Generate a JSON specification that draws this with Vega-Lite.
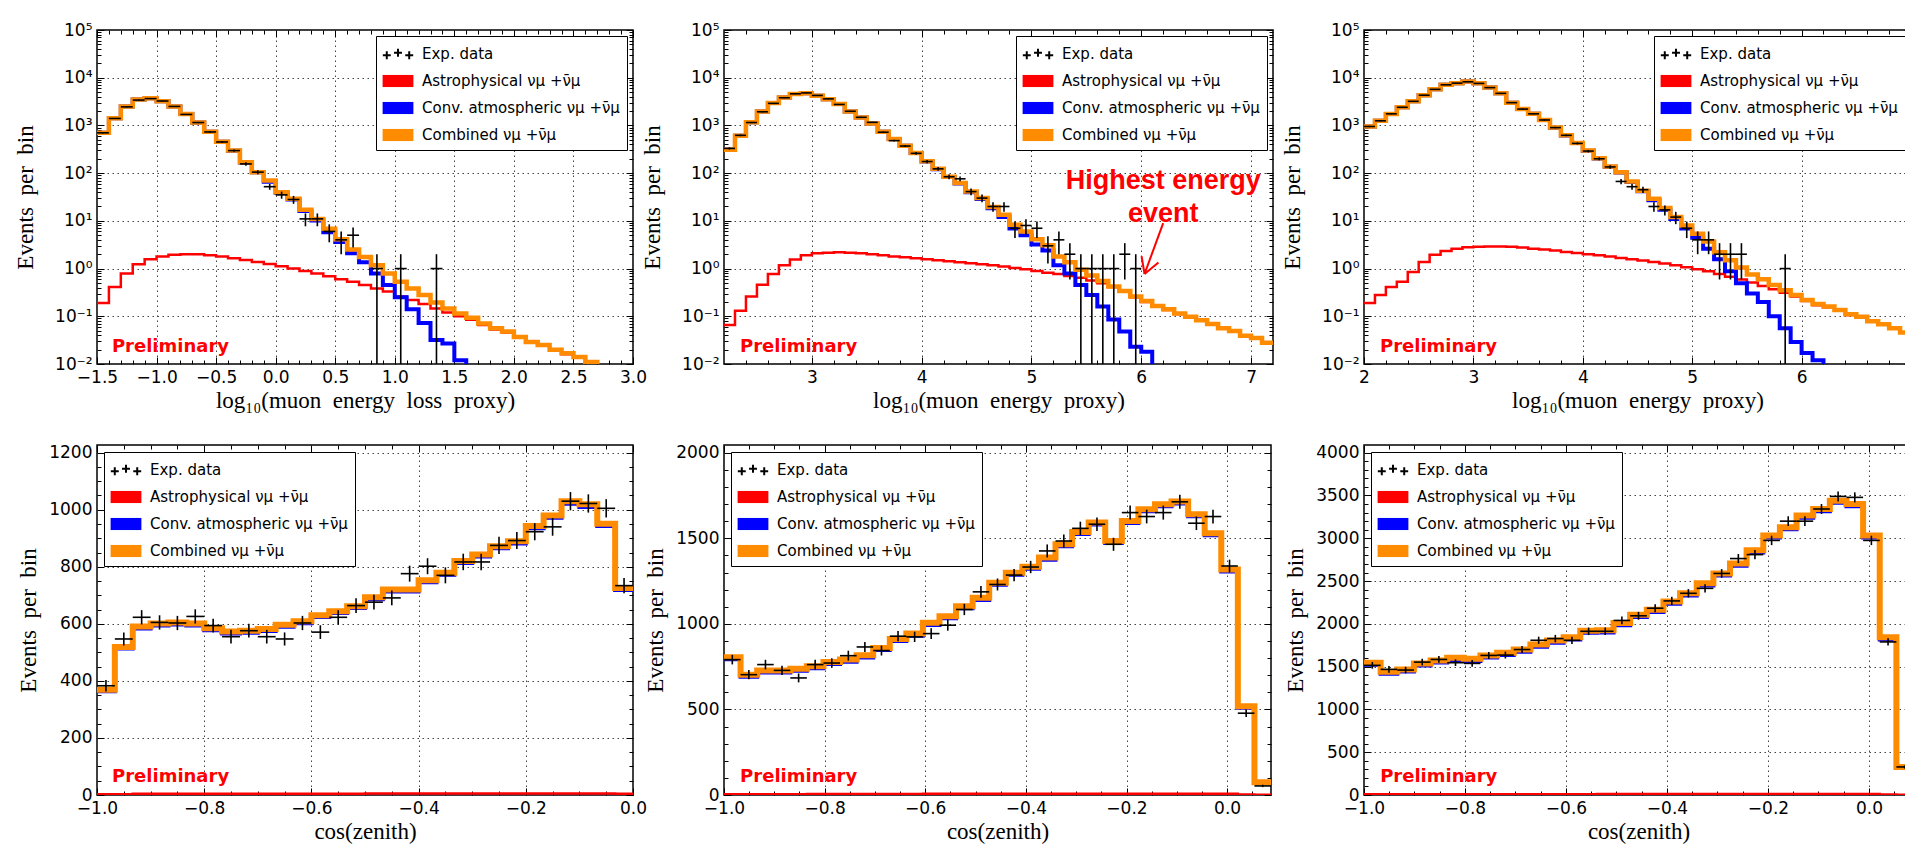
{
"$schema": "https://vega.github.io/schema/vega-lite/v6.json",
"background": "white",
"padding": {"left": 13, "top": 20, "right": 0, "bottom": 0},
"config": {
  "view": {"stroke": "black", "strokeWidth": 1.5},
  "axis": {"labelFont": "DejaVu Sans", "labelFontSize": 17, "labelColor": "black", "titleFont": "Liberation Serif", "titleFontSize": 23, "titleFontWeight": "normal", "titleColor": "black", "grid": true, "gridColor": "#444", "gridDash": [1.5, 3.5], "gridWidth": 1, "domain": false, "ticks": true, "tickColor": "black", "tickSize": -7, "tickWidth": 1, "labelPadding": 12, "labelFlush": false, "labelOverlap": false, "titlePadding": 4},
  "legend": {"title": null, "fillColor": "white", "strokeColor": "black", "padding": 7, "cornerRadius": 0, "labelFont": "DejaVu Sans", "labelFontSize": 15, "labelColor": "black", "labelOffset": 13, "labelLimit": 400, "symbolSize": 484, "symbolStrokeWidth": 0, "symbolOpacity": 1, "symbolOffset": 4, "rowPadding": 8}
},
"datasets": {
"lg": [],
"m1": [
{"x":-1.5,"comb":700,"conv":700,"astro":0.19},{"x":-1.4,"comb":1420,"conv":1420,"astro":0.41},{"x":-1.3,"comb":2500,"conv":2500,"astro":0.79},{"x":-1.2,"comb":3500,"conv":3500,"astro":1.23},{"x":-1.1,"comb":3700,"conv":3700,"astro":1.57},{"x":-1.0,"comb":3200,"conv":3200,"astro":1.8},{"x":-0.9,"comb":2500,"conv":2500,"astro":1.96},{"x":-0.8,"comb":1740,"conv":1738,"astro":2.0},{"x":-0.7,"comb":1150,"conv":1148,"astro":1.99},{"x":-0.6,"comb":740,"conv":738,"astro":1.9},{"x":-0.5,"comb":457,"conv":455,"astro":1.78},{"x":-0.4,"comb":297,"conv":295,"astro":1.64},{"x":-0.3,"comb":170,"conv":168,"astro":1.52},{"x":-0.2,"comb":105,"conv":104,"astro":1.38},{"x":-0.1,"comb":70,"conv":66,"astro":1.25},{"x":0.0,"comb":40,"conv":39,"astro":1.12},{"x":0.1,"comb":29,"conv":28,"astro":1.0},{"x":0.2,"comb":17,"conv":16,"astro":0.89},{"x":0.3,"comb":11,"conv":10.2,"astro":0.79},{"x":0.4,"comb":6.8,"conv":5.8,"astro":0.69},{"x":0.5,"comb":4.1,"conv":3.6,"astro":0.6},{"x":0.6,"comb":2.5,"conv":2.1,"astro":0.53},{"x":0.7,"comb":1.75,"conv":1.35,"astro":0.45},{"x":0.8,"comb":1.17,"conv":0.79,"astro":0.38},{"x":0.9,"comb":0.79,"conv":0.45,"astro":0.33},{"x":1.0,"comb":0.53,"conv":0.25,"astro":0.26},{"x":1.1,"comb":0.38,"conv":0.14,"astro":0.22},{"x":1.2,"comb":0.28,"conv":0.072,"astro":0.18},{"x":1.3,"comb":0.195,"conv":0.032,"astro":0.146},{"x":1.4,"comb":0.146,"conv":0.027,"astro":0.12},{"x":1.5,"comb":0.115,"conv":0.012,"astro":0.1},{"x":1.6,"comb":0.093,"conv":0.007,"astro":0.085},{"x":1.7,"comb":0.071,"conv":0.005,"astro":0.066},{"x":1.8,"comb":0.056,"conv":0.003,"astro":0.053},{"x":1.9,"comb":0.048,"conv":0.002,"astro":0.046},{"x":2.0,"comb":0.037,"conv":0.001,"astro":0.036},{"x":2.1,"comb":0.029,"conv":0.001,"astro":0.028},{"x":2.2,"comb":0.025,"conv":0.001,"astro":0.024},{"x":2.3,"comb":0.02,"conv":0.001,"astro":0.019},{"x":2.4,"comb":0.0167,"conv":0.001,"astro":0.016},{"x":2.5,"comb":0.014,"conv":0.001,"astro":0.0135},{"x":2.6,"comb":0.011,"conv":0.001,"astro":0.0105},{"x":2.7,"comb":0.008,"conv":0.001,"astro":0.0078},{"x":2.8,"comb":0.006,"conv":0.001,"astro":0.0058},{"x":2.9,"comb":0.005,"conv":0.001,"astro":0.0048},{"x":3.0,"comb":0.005,"conv":0.001,"astro":0.0048}
],
"d1": [
{"x0":-1.5,"x1":-1.4,"xm":-1.45,"n":700,"lo":674,"hi":726},{"x0":-1.4,"x1":-1.3,"xm":-1.35,"n":1400,"lo":1363,"hi":1437},{"x0":-1.3,"x1":-1.2,"xm":-1.25,"n":2450,"lo":2400,"hi":2500},{"x0":-1.2,"x1":-1.1,"xm":-1.15,"n":3400,"lo":3342,"hi":3458},{"x0":-1.1,"x1":-1.0,"xm":-1.05,"n":3650,"lo":3590,"hi":3710},{"x0":-1.0,"x1":-0.9,"xm":-0.95,"n":3250,"lo":3193,"hi":3307},{"x0":-0.9,"x1":-0.8,"xm":-0.85,"n":2500,"lo":2450,"hi":2550},{"x0":-0.8,"x1":-0.7,"xm":-0.75,"n":1700,"lo":1659,"hi":1741},{"x0":-0.7,"x1":-0.6,"xm":-0.65,"n":1150,"lo":1116,"hi":1184},{"x0":-0.6,"x1":-0.5,"xm":-0.55,"n":730,"lo":703,"hi":757},{"x0":-0.5,"x1":-0.4,"xm":-0.45,"n":450,"lo":429,"hi":471},{"x0":-0.4,"x1":-0.3,"xm":-0.35,"n":297,"lo":280,"hi":314},{"x0":-0.3,"x1":-0.2,"xm":-0.25,"n":156,"lo":143.5,"hi":168.5},{"x0":-0.2,"x1":-0.1,"xm":-0.15,"n":105,"lo":94.8,"hi":115.2},{"x0":-0.1,"x1":0.0,"xm":-0.05,"n":52,"lo":44.8,"hi":59.2},{"x0":0.0,"x1":0.1,"xm":0.05,"n":35,"lo":29.1,"hi":40.9},{"x0":0.1,"x1":0.2,"xm":0.15,"n":28,"lo":22.7,"hi":33.3},{"x0":0.2,"x1":0.3,"xm":0.25,"n":11,"lo":7.7,"hi":14.3},{"x0":0.3,"x1":0.4,"xm":0.35,"n":11,"lo":7.7,"hi":14.3},{"x0":0.4,"x1":0.5,"xm":0.45,"n":6,"lo":3.55,"hi":8.45},{"x0":0.5,"x1":0.6,"xm":0.55,"n":4,"lo":2,"hi":6},{"x0":0.6,"x1":0.7,"xm":0.65,"n":5,"lo":2.76,"hi":7.24},{"x0":0.8,"x1":0.9,"xm":0.85,"n":1,"lo":0.001,"hi":2},{"x0":1.0,"x1":1.1,"xm":1.05,"n":1,"lo":0.001,"hi":2},{"x0":1.3,"x1":1.4,"xm":1.35,"n":1,"lo":0.001,"hi":2}
],
"m2": [
{"x":2.2,"comb":310,"conv":310,"astro":0.066},{"x":2.3,"comb":610,"conv":610,"astro":0.13},{"x":2.4,"comb":1160,"conv":1160,"astro":0.26},{"x":2.5,"comb":1950,"conv":1950,"astro":0.46},{"x":2.6,"comb":2950,"conv":2949,"astro":0.77},{"x":2.7,"comb":3870,"conv":3869,"astro":1.17},{"x":2.8,"comb":4550,"conv":4548,"astro":1.54},{"x":2.9,"comb":4750,"conv":4748,"astro":1.9},{"x":3.0,"comb":4200,"conv":4198,"astro":2.1},{"x":3.1,"comb":3550,"conv":3548,"astro":2.15},{"x":3.2,"comb":2800,"conv":2798,"astro":2.2},{"x":3.3,"comb":1970,"conv":1968,"astro":2.15},{"x":3.4,"comb":1475,"conv":1473,"astro":2.1},{"x":3.5,"comb":1100,"conv":1098,"astro":2.0},{"x":3.6,"comb":740,"conv":738,"astro":1.9},{"x":3.7,"comb":520,"conv":518,"astro":1.8},{"x":3.8,"comb":375,"conv":373,"astro":1.72},{"x":3.9,"comb":265,"conv":263,"astro":1.64},{"x":4.0,"comb":178,"conv":176,"astro":1.57},{"x":4.1,"comb":123,"conv":121,"astro":1.49},{"x":4.2,"comb":84,"conv":82.6,"astro":1.42},{"x":4.3,"comb":62,"conv":60.6,"astro":1.36},{"x":4.4,"comb":41,"conv":39.7,"astro":1.29},{"x":4.5,"comb":30,"conv":28.8,"astro":1.23},{"x":4.6,"comb":19.5,"conv":18.3,"astro":1.17},{"x":4.7,"comb":13.4,"conv":12,"astro":1.1},{"x":4.8,"comb":8.3,"conv":6.9,"astro":1.03},{"x":4.9,"comb":6.0,"conv":5.0,"astro":0.97},{"x":5.0,"comb":4.1,"conv":3.2,"astro":0.89},{"x":5.1,"comb":3.1,"conv":2.4,"astro":0.82},{"x":5.2,"comb":1.8,"conv":1.17,"astro":0.77},{"x":5.3,"comb":1.35,"conv":0.79,"astro":0.7},{"x":5.4,"comb":0.95,"conv":0.45,"astro":0.64},{"x":5.5,"comb":0.72,"conv":0.28,"astro":0.56},{"x":5.6,"comb":0.55,"conv":0.16,"astro":0.49},{"x":5.7,"comb":0.42,"conv":0.086,"astro":0.41},{"x":5.8,"comb":0.34,"conv":0.048,"astro":0.33},{"x":5.9,"comb":0.26,"conv":0.023,"astro":0.25},{"x":6.0,"comb":0.21,"conv":0.018,"astro":0.2},{"x":6.1,"comb":0.165,"conv":0.008,"astro":0.16},{"x":6.2,"comb":0.14,"conv":0.005,"astro":0.136},{"x":6.3,"comb":0.115,"conv":0.003,"astro":0.112},{"x":6.4,"comb":0.098,"conv":0.002,"astro":0.096},{"x":6.5,"comb":0.083,"conv":0.001,"astro":0.082},{"x":6.6,"comb":0.069,"conv":0.001,"astro":0.068},{"x":6.7,"comb":0.056,"conv":0.001,"astro":0.055},{"x":6.8,"comb":0.049,"conv":0.001,"astro":0.048},{"x":6.9,"comb":0.039,"conv":0.001,"astro":0.038},{"x":7.0,"comb":0.035,"conv":0.001,"astro":0.034},{"x":7.1,"comb":0.028,"conv":0.001,"astro":0.027},{"x":7.2,"comb":0.028,"conv":0.001,"astro":0.027}
],
"d2": [
{"x0":2.2,"x1":2.3,"xm":2.25,"n":330,"lo":312,"hi":348},{"x0":2.3,"x1":2.4,"xm":2.35,"n":620,"lo":595,"hi":645},{"x0":2.4,"x1":2.5,"xm":2.45,"n":1150,"lo":1116,"hi":1184},{"x0":2.5,"x1":2.6,"xm":2.55,"n":1930,"lo":1886,"hi":1974},{"x0":2.6,"x1":2.7,"xm":2.65,"n":2900,"lo":2846,"hi":2954},{"x0":2.7,"x1":2.8,"xm":2.75,"n":3800,"lo":3738,"hi":3862},{"x0":2.8,"x1":2.9,"xm":2.85,"n":4600,"lo":4532,"hi":4668},{"x0":2.9,"x1":3.0,"xm":2.95,"n":4800,"lo":4731,"hi":4869},{"x0":3.0,"x1":3.1,"xm":3.05,"n":4250,"lo":4185,"hi":4315},{"x0":3.1,"x1":3.2,"xm":3.15,"n":3600,"lo":3540,"hi":3660},{"x0":3.2,"x1":3.3,"xm":3.25,"n":2750,"lo":2698,"hi":2802},{"x0":3.3,"x1":3.4,"xm":3.35,"n":1980,"lo":1936,"hi":2024},{"x0":3.4,"x1":3.5,"xm":3.45,"n":1480,"lo":1442,"hi":1518},{"x0":3.5,"x1":3.6,"xm":3.55,"n":1160,"lo":1126,"hi":1194},{"x0":3.6,"x1":3.7,"xm":3.65,"n":720,"lo":693,"hi":747},{"x0":3.7,"x1":3.8,"xm":3.75,"n":480,"lo":458,"hi":502},{"x0":3.8,"x1":3.9,"xm":3.85,"n":370,"lo":351,"hi":389},{"x0":3.9,"x1":4.0,"xm":3.95,"n":260,"lo":244,"hi":276},{"x0":4.0,"x1":4.1,"xm":4.05,"n":175,"lo":162,"hi":188},{"x0":4.1,"x1":4.2,"xm":4.15,"n":123,"lo":112,"hi":134},{"x0":4.2,"x1":4.3,"xm":4.25,"n":84,"lo":74.8,"hi":93.2},{"x0":4.3,"x1":4.4,"xm":4.35,"n":76,"lo":67.3,"hi":84.7},{"x0":4.4,"x1":4.5,"xm":4.45,"n":41,"lo":34.6,"hi":47.4},{"x0":4.5,"x1":4.6,"xm":4.55,"n":30,"lo":24.5,"hi":35.5},{"x0":4.6,"x1":4.7,"xm":4.65,"n":20,"lo":15.5,"hi":24.5},{"x0":4.7,"x1":4.8,"xm":4.75,"n":20,"lo":15.5,"hi":24.5},{"x0":4.8,"x1":4.9,"xm":4.85,"n":7,"lo":4.35,"hi":9.65},{"x0":4.9,"x1":5.0,"xm":4.95,"n":8,"lo":5.17,"hi":10.83},{"x0":5.0,"x1":5.1,"xm":5.05,"n":7,"lo":4.35,"hi":9.65},{"x0":5.1,"x1":5.2,"xm":5.15,"n":3,"lo":1.27,"hi":4.73},{"x0":5.2,"x1":5.3,"xm":5.25,"n":4,"lo":2,"hi":6},{"x0":5.3,"x1":5.4,"xm":5.35,"n":2,"lo":0.59,"hi":3.41},{"x0":5.4,"x1":5.5,"xm":5.45,"n":1,"lo":0.001,"hi":2},{"x0":5.5,"x1":5.6,"xm":5.55,"n":1,"lo":0.001,"hi":2},{"x0":5.6,"x1":5.7,"xm":5.65,"n":1,"lo":0.001,"hi":2},{"x0":5.7,"x1":5.8,"xm":5.75,"n":1,"lo":0.001,"hi":2},{"x0":5.8,"x1":5.9,"xm":5.85,"n":2,"lo":0.59,"hi":3.41},{"x0":5.9,"x1":6.0,"xm":5.95,"n":1,"lo":0.001,"hi":2}
],
"m3": [
{"x":2.0,"comb":955,"conv":955,"astro":0.19},{"x":2.1,"comb":1250,"conv":1250,"astro":0.28},{"x":2.2,"comb":1740,"conv":1740,"astro":0.41},{"x":2.3,"comb":2400,"conv":2400,"astro":0.53},{"x":2.4,"comb":3200,"conv":3199,"astro":0.85},{"x":2.5,"comb":4300,"conv":4299,"astro":1.38},{"x":2.6,"comb":5750,"conv":5748,"astro":1.96},{"x":2.7,"comb":7100,"conv":7098,"astro":2.34},{"x":2.8,"comb":7700,"conv":7697,"astro":2.6},{"x":2.9,"comb":8300,"conv":8297,"astro":2.8},{"x":3.0,"comb":7700,"conv":7697,"astro":2.85},{"x":3.1,"comb":6250,"conv":6247,"astro":2.9},{"x":3.2,"comb":4750,"conv":4747,"astro":2.9},{"x":3.3,"comb":3000,"conv":2997,"astro":2.85},{"x":3.4,"comb":2200,"conv":2197,"astro":2.75},{"x":3.5,"comb":1750,"conv":1747,"astro":2.6},{"x":3.6,"comb":1300,"conv":1297,"astro":2.5},{"x":3.7,"comb":900,"conv":898,"astro":2.4},{"x":3.8,"comb":620,"conv":618,"astro":2.23},{"x":3.9,"comb":430,"conv":428,"astro":2.13},{"x":4.0,"comb":297,"conv":295,"astro":2.0},{"x":4.1,"comb":205,"conv":203,"astro":1.9},{"x":4.2,"comb":138,"conv":136,"astro":1.78},{"x":4.3,"comb":105,"conv":103,"astro":1.67},{"x":4.4,"comb":67,"conv":65.4,"astro":1.57},{"x":4.5,"comb":43,"conv":41.5,"astro":1.47},{"x":4.6,"comb":29,"conv":27,"astro":1.38},{"x":4.7,"comb":18.5,"conv":17,"astro":1.27},{"x":4.8,"comb":12,"conv":11,"astro":1.17},{"x":4.9,"comb":8,"conv":6.9,"astro":1.07},{"x":5.0,"comb":5.4,"conv":4.4,"astro":0.97},{"x":5.1,"comb":3.7,"conv":2.6,"astro":0.88},{"x":5.2,"comb":2.2,"conv":1.57,"astro":0.77},{"x":5.3,"comb":1.5,"conv":0.88,"astro":0.67},{"x":5.4,"comb":1.05,"conv":0.49,"astro":0.59},{"x":5.5,"comb":0.75,"conv":0.3,"astro":0.51},{"x":5.6,"comb":0.6,"conv":0.2,"astro":0.43},{"x":5.7,"comb":0.45,"conv":0.1,"astro":0.37},{"x":5.8,"comb":0.35,"conv":0.056,"astro":0.31},{"x":5.9,"comb":0.28,"conv":0.029,"astro":0.26},{"x":6.0,"comb":0.22,"conv":0.017,"astro":0.21},{"x":6.1,"comb":0.18,"conv":0.012,"astro":0.17},{"x":6.2,"comb":0.16,"conv":0.006,"astro":0.155},{"x":6.3,"comb":0.135,"conv":0.004,"astro":0.13},{"x":6.4,"comb":0.11,"conv":0.003,"astro":0.107},{"x":6.5,"comb":0.098,"conv":0.002,"astro":0.096},{"x":6.6,"comb":0.079,"conv":0.001,"astro":0.078},{"x":6.7,"comb":0.068,"conv":0.001,"astro":0.067},{"x":6.8,"comb":0.056,"conv":0.001,"astro":0.055},{"x":6.9,"comb":0.046,"conv":0.001,"astro":0.045},{"x":7.0,"comb":0.046,"conv":0.001,"astro":0.045}
],
"d3": [
{"x0":2.0,"x1":2.1,"xm":2.05,"n":950,"lo":919,"hi":981},{"x0":2.1,"x1":2.2,"xm":2.15,"n":1250,"lo":1215,"hi":1285},{"x0":2.2,"x1":2.3,"xm":2.25,"n":1750,"lo":1708,"hi":1792},{"x0":2.3,"x1":2.4,"xm":2.35,"n":2400,"lo":2351,"hi":2449},{"x0":2.4,"x1":2.5,"xm":2.45,"n":3200,"lo":3143,"hi":3257},{"x0":2.5,"x1":2.6,"xm":2.55,"n":4300,"lo":4234,"hi":4366},{"x0":2.6,"x1":2.7,"xm":2.65,"n":5700,"lo":5625,"hi":5775},{"x0":2.7,"x1":2.8,"xm":2.75,"n":7100,"lo":7016,"hi":7184},{"x0":2.8,"x1":2.9,"xm":2.85,"n":7700,"lo":7612,"hi":7788},{"x0":2.9,"x1":3.0,"xm":2.95,"n":8200,"lo":8109,"hi":8291},{"x0":3.0,"x1":3.1,"xm":3.05,"n":7600,"lo":7513,"hi":7687},{"x0":3.1,"x1":3.2,"xm":3.15,"n":6200,"lo":6121,"hi":6279},{"x0":3.2,"x1":3.3,"xm":3.25,"n":4700,"lo":4631,"hi":4769},{"x0":3.3,"x1":3.4,"xm":3.35,"n":3000,"lo":2945,"hi":3055},{"x0":3.4,"x1":3.5,"xm":3.45,"n":2200,"lo":2153,"hi":2247},{"x0":3.5,"x1":3.6,"xm":3.55,"n":1750,"lo":1708,"hi":1792},{"x0":3.6,"x1":3.7,"xm":3.65,"n":1300,"lo":1264,"hi":1336},{"x0":3.7,"x1":3.8,"xm":3.75,"n":900,"lo":870,"hi":930},{"x0":3.8,"x1":3.9,"xm":3.85,"n":620,"lo":595,"hi":645},{"x0":3.9,"x1":4.0,"xm":3.95,"n":420,"lo":400,"hi":440},{"x0":4.0,"x1":4.1,"xm":4.05,"n":290,"lo":273,"hi":307},{"x0":4.1,"x1":4.2,"xm":4.15,"n":200,"lo":186,"hi":214},{"x0":4.2,"x1":4.3,"xm":4.25,"n":135,"lo":123,"hi":147},{"x0":4.3,"x1":4.4,"xm":4.35,"n":67,"lo":58.8,"hi":75.2},{"x0":4.4,"x1":4.5,"xm":4.45,"n":52,"lo":44.8,"hi":59.2},{"x0":4.5,"x1":4.6,"xm":4.55,"n":45,"lo":38.3,"hi":51.7},{"x0":4.6,"x1":4.7,"xm":4.65,"n":20,"lo":15.5,"hi":24.5},{"x0":4.7,"x1":4.8,"xm":4.75,"n":17,"lo":12.9,"hi":21.1},{"x0":4.8,"x1":4.9,"xm":4.85,"n":12,"lo":8.54,"hi":15.46},{"x0":4.9,"x1":5.0,"xm":4.95,"n":7,"lo":4.35,"hi":9.65},{"x0":5.0,"x1":5.1,"xm":5.05,"n":4,"lo":2,"hi":6},{"x0":5.1,"x1":5.2,"xm":5.15,"n":4,"lo":2,"hi":6},{"x0":5.2,"x1":5.3,"xm":5.25,"n":2,"lo":0.59,"hi":3.41},{"x0":5.3,"x1":5.4,"xm":5.35,"n":2,"lo":0.59,"hi":3.41},{"x0":5.4,"x1":5.5,"xm":5.45,"n":2,"lo":0.59,"hi":3.41},{"x0":5.8,"x1":5.9,"xm":5.85,"n":1,"lo":0.001,"hi":2}
],
"m4": [
{"x":-1.0,"comb":369,"conv":364,"astro":3},{"x":-0.9667,"comb":519,"conv":514,"astro":3},{"x":-0.9333,"comb":591,"conv":584,"astro":4},{"x":-0.9,"comb":601,"conv":594,"astro":4},{"x":-0.8667,"comb":605,"conv":598,"astro":4},{"x":-0.8333,"comb":601,"conv":594,"astro":4},{"x":-0.8,"comb":585,"conv":578,"astro":4},{"x":-0.7667,"comb":573,"conv":566,"astro":4},{"x":-0.7333,"comb":576,"conv":569,"astro":4},{"x":-0.7,"comb":582,"conv":575,"astro":4},{"x":-0.6667,"comb":597,"conv":590,"astro":4},{"x":-0.6333,"comb":609,"conv":602,"astro":4},{"x":-0.6,"comb":630,"conv":624,"astro":4},{"x":-0.5667,"comb":644,"conv":638,"astro":4},{"x":-0.5333,"comb":662,"conv":656,"astro":4},{"x":-0.5,"comb":693,"conv":686,"astro":5},{"x":-0.4667,"comb":720,"conv":713,"astro":5},{"x":-0.4333,"comb":720,"conv":713,"astro":5},{"x":-0.4,"comb":753,"conv":746,"astro":5},{"x":-0.3667,"comb":779,"conv":772,"astro":5},{"x":-0.3333,"comb":820,"conv":813,"astro":5},{"x":-0.3,"comb":843,"conv":836,"astro":5},{"x":-0.2667,"comb":872,"conv":865,"astro":5},{"x":-0.2333,"comb":890,"conv":882,"astro":5},{"x":-0.2,"comb":943,"conv":935,"astro":5},{"x":-0.1667,"comb":980,"conv":972,"astro":5},{"x":-0.1333,"comb":1030,"conv":1021,"astro":5},{"x":-0.1,"comb":1019,"conv":1010,"astro":5},{"x":-0.0667,"comb":951,"conv":943,"astro":5},{"x":-0.0333,"comb":726,"conv":719,"astro":4},{"x":0.0,"comb":726,"conv":719,"astro":4}
],
"d4": [
{"x0":-1.0,"x1":-0.9667,"xm":-0.9833,"n":383,"lo":363,"hi":403},{"x0":-0.9667,"x1":-0.9333,"xm":-0.95,"n":547,"lo":524,"hi":570},{"x0":-0.9333,"x1":-0.9,"xm":-0.9167,"n":623,"lo":598,"hi":648},{"x0":-0.9,"x1":-0.8667,"xm":-0.8833,"n":605,"lo":580,"hi":630},{"x0":-0.8667,"x1":-0.8333,"xm":-0.85,"n":603,"lo":578,"hi":628},{"x0":-0.8333,"x1":-0.8,"xm":-0.8167,"n":626,"lo":601,"hi":651},{"x0":-0.8,"x1":-0.7667,"xm":-0.7833,"n":594,"lo":570,"hi":618},{"x0":-0.7667,"x1":-0.7333,"xm":-0.75,"n":555,"lo":531,"hi":579},{"x0":-0.7333,"x1":-0.7,"xm":-0.7167,"n":576,"lo":552,"hi":600},{"x0":-0.7,"x1":-0.6667,"xm":-0.6833,"n":555,"lo":531,"hi":579},{"x0":-0.6667,"x1":-0.6333,"xm":-0.65,"n":547,"lo":524,"hi":570},{"x0":-0.6333,"x1":-0.6,"xm":-0.6167,"n":603,"lo":578,"hi":628},{"x0":-0.6,"x1":-0.5667,"xm":-0.5833,"n":571,"lo":547,"hi":595},{"x0":-0.5667,"x1":-0.5333,"xm":-0.55,"n":623,"lo":598,"hi":648},{"x0":-0.5333,"x1":-0.5,"xm":-0.5167,"n":664,"lo":638,"hi":690},{"x0":-0.5,"x1":-0.4667,"xm":-0.4833,"n":676,"lo":650,"hi":702},{"x0":-0.4667,"x1":-0.4333,"xm":-0.45,"n":691,"lo":665,"hi":717},{"x0":-0.4333,"x1":-0.4,"xm":-0.4167,"n":776,"lo":748,"hi":804},{"x0":-0.4,"x1":-0.3667,"xm":-0.3833,"n":802,"lo":774,"hi":830},{"x0":-0.3667,"x1":-0.3333,"xm":-0.35,"n":770,"lo":742,"hi":798},{"x0":-0.3333,"x1":-0.3,"xm":-0.3167,"n":817,"lo":788,"hi":846},{"x0":-0.3,"x1":-0.2667,"xm":-0.2833,"n":817,"lo":788,"hi":846},{"x0":-0.2667,"x1":-0.2333,"xm":-0.25,"n":875,"lo":845,"hi":905},{"x0":-0.2333,"x1":-0.2,"xm":-0.2167,"n":892,"lo":862,"hi":922},{"x0":-0.2,"x1":-0.1667,"xm":-0.1833,"n":923,"lo":893,"hi":953},{"x0":-0.1667,"x1":-0.1333,"xm":-0.15,"n":940,"lo":909,"hi":971},{"x0":-0.1333,"x1":-0.1,"xm":-0.1167,"n":1030,"lo":998,"hi":1062},{"x0":-0.1,"x1":-0.0667,"xm":-0.0833,"n":1022,"lo":990,"hi":1054},{"x0":-0.0667,"x1":-0.0333,"xm":-0.05,"n":1005,"lo":973,"hi":1037},{"x0":-0.0333,"x1":0.0,"xm":-0.0167,"n":734,"lo":707,"hi":761}
],
"m5": [
{"x":-1.0,"comb":805,"conv":793,"astro":5},{"x":-0.9671,"comb":703,"conv":691,"astro":5},{"x":-0.9341,"comb":728,"conv":716,"astro":5},{"x":-0.9012,"comb":728,"conv":716,"astro":5},{"x":-0.8682,"comb":738,"conv":726,"astro":5},{"x":-0.8353,"comb":752,"conv":740,"astro":6},{"x":-0.8023,"comb":777,"conv":765,"astro":6},{"x":-0.7694,"comb":791,"conv":779,"astro":6},{"x":-0.7364,"comb":816,"conv":804,"astro":6},{"x":-0.7035,"comb":859,"conv":847,"astro":6},{"x":-0.6705,"comb":912,"conv":900,"astro":6},{"x":-0.6376,"comb":943,"conv":931,"astro":6},{"x":-0.6047,"comb":1006,"conv":994,"astro":7},{"x":-0.5717,"comb":1045,"conv":1033,"astro":7},{"x":-0.5388,"comb":1103,"conv":1091,"astro":7},{"x":-0.5058,"comb":1152,"conv":1140,"astro":7},{"x":-0.4729,"comb":1240,"conv":1228,"astro":7},{"x":-0.4399,"comb":1299,"conv":1287,"astro":7},{"x":-0.407,"comb":1334,"conv":1322,"astro":7},{"x":-0.374,"comb":1387,"conv":1375,"astro":8},{"x":-0.3411,"comb":1465,"conv":1453,"astro":8},{"x":-0.3081,"comb":1537,"conv":1525,"astro":8},{"x":-0.2752,"comb":1592,"conv":1580,"astro":8},{"x":-0.2423,"comb":1484,"conv":1472,"astro":8},{"x":-0.2093,"comb":1601,"conv":1589,"astro":8},{"x":-0.1764,"comb":1670,"conv":1658,"astro":8},{"x":-0.1434,"comb":1699,"conv":1687,"astro":8},{"x":-0.1105,"comb":1715,"conv":1703,"astro":8},{"x":-0.0775,"comb":1640,"conv":1628,"astro":8},{"x":-0.0446,"comb":1529,"conv":1517,"astro":8},{"x":-0.0116,"comb":1318,"conv":1306,"astro":7},{"x":0.0213,"comb":518,"conv":510,"astro":3},{"x":0.0543,"comb":74,"conv":72,"astro":1},{"x":0.0872,"comb":74,"conv":72,"astro":1}
],
"d5": [
{"x0":-1.0,"x1":-0.9671,"xm":-0.9835,"n":791,"lo":763,"hi":819},{"x0":-0.9671,"x1":-0.9341,"xm":-0.9506,"n":703,"lo":677,"hi":730},{"x0":-0.9341,"x1":-0.9012,"xm":-0.9176,"n":762,"lo":734,"hi":790},{"x0":-0.9012,"x1":-0.8682,"xm":-0.8847,"n":728,"lo":701,"hi":755},{"x0":-0.8682,"x1":-0.8353,"xm":-0.8517,"n":684,"lo":658,"hi":710},{"x0":-0.8353,"x1":-0.8023,"xm":-0.8188,"n":762,"lo":734,"hi":790},{"x0":-0.8023,"x1":-0.7694,"xm":-0.7858,"n":771,"lo":743,"hi":799},{"x0":-0.7694,"x1":-0.7364,"xm":-0.7529,"n":814,"lo":785,"hi":843},{"x0":-0.7364,"x1":-0.7035,"xm":-0.72,"n":865,"lo":836,"hi":894},{"x0":-0.7035,"x1":-0.6705,"xm":-0.687,"n":844,"lo":815,"hi":873},{"x0":-0.6705,"x1":-0.6376,"xm":-0.6541,"n":928,"lo":898,"hi":958},{"x0":-0.6376,"x1":-0.6047,"xm":-0.6211,"n":924,"lo":894,"hi":954},{"x0":-0.6047,"x1":-0.5717,"xm":-0.5882,"n":943,"lo":912,"hi":974},{"x0":-0.5717,"x1":-0.5388,"xm":-0.5552,"n":992,"lo":960,"hi":1024},{"x0":-0.5388,"x1":-0.5058,"xm":-0.5223,"n":1084,"lo":1051,"hi":1117},{"x0":-0.5058,"x1":-0.4729,"xm":-0.4893,"n":1187,"lo":1153,"hi":1221},{"x0":-0.4729,"x1":-0.4399,"xm":-0.4564,"n":1230,"lo":1195,"hi":1265},{"x0":-0.4399,"x1":-0.407,"xm":-0.4234,"n":1285,"lo":1249,"hi":1321},{"x0":-0.407,"x1":-0.374,"xm":-0.3905,"n":1332,"lo":1296,"hi":1368},{"x0":-0.374,"x1":-0.3411,"xm":-0.3576,"n":1426,"lo":1388,"hi":1464},{"x0":-0.3411,"x1":-0.3081,"xm":-0.3246,"n":1484,"lo":1446,"hi":1522},{"x0":-0.3081,"x1":-0.2752,"xm":-0.2917,"n":1558,"lo":1519,"hi":1597},{"x0":-0.2752,"x1":-0.2423,"xm":-0.2587,"n":1582,"lo":1542,"hi":1622},{"x0":-0.2423,"x1":-0.2093,"xm":-0.2258,"n":1465,"lo":1427,"hi":1503},{"x0":-0.2093,"x1":-0.1764,"xm":-0.1928,"n":1650,"lo":1609,"hi":1691},{"x0":-0.1764,"x1":-0.1434,"xm":-0.1599,"n":1627,"lo":1587,"hi":1667},{"x0":-0.1434,"x1":-0.1105,"xm":-0.1269,"n":1650,"lo":1609,"hi":1691},{"x0":-0.1105,"x1":-0.0775,"xm":-0.094,"n":1713,"lo":1672,"hi":1754},{"x0":-0.0775,"x1":-0.0446,"xm":-0.0611,"n":1588,"lo":1548,"hi":1628},{"x0":-0.0446,"x1":-0.0116,"xm":-0.0281,"n":1627,"lo":1587,"hi":1667},{"x0":-0.0116,"x1":0.0213,"xm":0.0048,"n":1338,"lo":1301,"hi":1375},{"x0":0.0213,"x1":0.0543,"xm":0.0378,"n":478,"lo":456,"hi":500},{"x0":0.0543,"x1":0.0872,"xm":0.0707,"n":53,"lo":46,"hi":60}
],
"m6": [
{"x":-1.0,"comb":1546,"conv":1521,"astro":8},{"x":-0.9671,"comb":1441,"conv":1416,"astro":8},{"x":-0.9341,"comb":1468,"conv":1443,"astro":8},{"x":-0.9012,"comb":1538,"conv":1513,"astro":8},{"x":-0.8682,"comb":1573,"conv":1548,"astro":9},{"x":-0.8353,"comb":1604,"conv":1579,"astro":9},{"x":-0.8023,"comb":1592,"conv":1567,"astro":9},{"x":-0.7694,"comb":1631,"conv":1606,"astro":9},{"x":-0.7364,"comb":1662,"conv":1637,"astro":9},{"x":-0.7035,"comb":1700,"conv":1675,"astro":10},{"x":-0.6705,"comb":1758,"conv":1733,"astro":10},{"x":-0.6376,"comb":1805,"conv":1780,"astro":10},{"x":-0.6047,"comb":1843,"conv":1818,"astro":10},{"x":-0.5717,"comb":1920,"conv":1895,"astro":10},{"x":-0.5388,"comb":1924,"conv":1899,"astro":11},{"x":-0.5058,"comb":2009,"conv":1984,"astro":11},{"x":-0.4729,"comb":2106,"conv":2081,"astro":11},{"x":-0.4399,"comb":2164,"conv":2139,"astro":11},{"x":-0.407,"comb":2260,"conv":2235,"astro":12},{"x":-0.374,"comb":2357,"conv":2332,"astro":12},{"x":-0.3411,"comb":2473,"conv":2448,"astro":12},{"x":-0.3081,"comb":2589,"conv":2564,"astro":12},{"x":-0.2752,"comb":2705,"conv":2680,"astro":12},{"x":-0.2423,"comb":2859,"conv":2834,"astro":13},{"x":-0.2093,"comb":3033,"conv":3008,"astro":13},{"x":-0.1764,"comb":3130,"conv":3105,"astro":13},{"x":-0.1434,"comb":3265,"conv":3240,"astro":13},{"x":-0.1105,"comb":3342,"conv":3317,"astro":13},{"x":-0.0775,"comb":3439,"conv":3414,"astro":13},{"x":-0.0446,"comb":3400,"conv":3375,"astro":13},{"x":-0.0116,"comb":3033,"conv":3008,"astro":12},{"x":0.0213,"comb":1843,"conv":1818,"astro":7},{"x":0.0543,"comb":328,"conv":323,"astro":2},{"x":0.0872,"comb":328,"conv":323,"astro":2}
],
"d6": [
{"x0":-1.0,"x1":-0.9671,"xm":-0.9835,"n":1515,"lo":1476,"hi":1554},{"x0":-0.9671,"x1":-0.9341,"xm":-0.9506,"n":1468,"lo":1430,"hi":1506},{"x0":-0.9341,"x1":-0.9012,"xm":-0.9176,"n":1460,"lo":1422,"hi":1498},{"x0":-0.9012,"x1":-0.8682,"xm":-0.8847,"n":1553,"lo":1514,"hi":1592},{"x0":-0.8682,"x1":-0.8353,"xm":-0.8517,"n":1584,"lo":1544,"hi":1624},{"x0":-0.8353,"x1":-0.8023,"xm":-0.8188,"n":1546,"lo":1507,"hi":1585},{"x0":-0.8023,"x1":-0.7694,"xm":-0.7858,"n":1538,"lo":1499,"hi":1577},{"x0":-0.7694,"x1":-0.7364,"xm":-0.7529,"n":1631,"lo":1591,"hi":1671},{"x0":-0.7364,"x1":-0.7035,"xm":-0.72,"n":1635,"lo":1595,"hi":1675},{"x0":-0.7035,"x1":-0.6705,"xm":-0.687,"n":1700,"lo":1659,"hi":1741},{"x0":-0.6705,"x1":-0.6376,"xm":-0.6541,"n":1808,"lo":1766,"hi":1850},{"x0":-0.6376,"x1":-0.6047,"xm":-0.6211,"n":1828,"lo":1785,"hi":1871},{"x0":-0.6047,"x1":-0.5717,"xm":-0.5882,"n":1808,"lo":1766,"hi":1850},{"x0":-0.5717,"x1":-0.5388,"xm":-0.5552,"n":1913,"lo":1869,"hi":1957},{"x0":-0.5388,"x1":-0.5058,"xm":-0.5223,"n":1913,"lo":1869,"hi":1957},{"x0":-0.5058,"x1":-0.4729,"xm":-0.4893,"n":2040,"lo":1995,"hi":2085},{"x0":-0.4729,"x1":-0.4399,"xm":-0.4564,"n":2094,"lo":2048,"hi":2140},{"x0":-0.4399,"x1":-0.407,"xm":-0.4234,"n":2183,"lo":2136,"hi":2230},{"x0":-0.407,"x1":-0.374,"xm":-0.3905,"n":2268,"lo":2220,"hi":2316},{"x0":-0.374,"x1":-0.3411,"xm":-0.3576,"n":2357,"lo":2308,"hi":2406},{"x0":-0.3411,"x1":-0.3081,"xm":-0.3246,"n":2415,"lo":2366,"hi":2464},{"x0":-0.3081,"x1":-0.2752,"xm":-0.2917,"n":2589,"lo":2538,"hi":2640},{"x0":-0.2752,"x1":-0.2423,"xm":-0.2587,"n":2763,"lo":2710,"hi":2816},{"x0":-0.2423,"x1":-0.2093,"xm":-0.2258,"n":2809,"lo":2756,"hi":2862},{"x0":-0.2093,"x1":-0.1764,"xm":-0.1928,"n":2975,"lo":2920,"hi":3030},{"x0":-0.1764,"x1":-0.1434,"xm":-0.1599,"n":3200,"lo":3143,"hi":3257},{"x0":-0.1434,"x1":-0.1105,"xm":-0.1269,"n":3200,"lo":3143,"hi":3257},{"x0":-0.1105,"x1":-0.0775,"xm":-0.094,"n":3342,"lo":3284,"hi":3400},{"x0":-0.0775,"x1":-0.0446,"xm":-0.0611,"n":3489,"lo":3430,"hi":3548},{"x0":-0.0446,"x1":-0.0116,"xm":-0.0281,"n":3478,"lo":3419,"hi":3537},{"x0":-0.0116,"x1":0.0213,"xm":0.0048,"n":2975,"lo":2920,"hi":3030},{"x0":0.0213,"x1":0.0543,"xm":0.0378,"n":1789,"lo":1747,"hi":1831},{"x0":0.0543,"x1":0.0872,"xm":0.0707,"n":328,"lo":310,"hi":346}
]
},
"columns": 3,
"spacing": {"row": 81, "column": 91},
"bounds": "flush",
"resolve": {"scale": {"color": "independent", "fill": "independent", "shape": "independent"}, "legend": {"color": "independent", "fill": "independent", "shape": "independent"}},
"concat": [
{
"width": 536, "height": 334,
"resolve": {"axis": {"x": "independent", "y": "independent"}},
"layer": [
{"data": {"name": "m1"}, "mark": {"type": "line", "interpolate": "step-after", "clip": true, "strokeWidth": 2.5},
 "encoding": {
  "x": {"field": "x", "type": "quantitative", "scale": {"domain": [-1.5, 3], "nice": false, "zero": false}, "axis": {"orient": "bottom", "title": "log\u2081\u2080(muon\u00a0\u00a0energy\u00a0\u00a0loss\u00a0\u00a0proxy)", "values": [-1.5, -1, -0.5, 0, 0.5, 1, 1.5, 2, 2.5, 3], "format": ".1f"}},
  "y": {"field": "astro", "type": "quantitative", "scale": {"type": "log", "domain": [0.01, 100000], "nice": false}, "axis": {"orient": "left", "title": "Events\u00a0\u00a0per\u00a0\u00a0bin", "titlePadding": 17, "values": [0.01, 0.1, 1, 10, 100, 1000, 10000, 100000], "labelExpr": "datum.value < 0.05 ? '10\u207b\u00b2' : datum.value < 0.5 ? '10\u207b\u00b9' : datum.value < 5 ? '10\u2070' : datum.value < 50 ? '10\u00b9' : datum.value < 500 ? '10\u00b2' : datum.value < 5000 ? '10\u00b3' : datum.value < 50000 ? '10\u2074' : '10\u2075'"}},
  "color": {"datum": "Astrophysical", "type": "nominal", "legend": null, "scale": {"domain": ["Exp. data", "Astrophysical", "Conv. atmospheric", "Combined"], "range": ["#000000", "#ff0000", "#0000ff", "#ff8c00"]}}
 }},
{"data": {"name": "m1"}, "mark": {"type": "line", "interpolate": "step-after", "clip": true, "strokeWidth": 4}, "encoding": {
  "x": {"field": "x", "type": "quantitative", "axis": {"orient": "top", "labels": false, "title": null, "grid": false, "values": [-1.5, -1, -0.5, 0, 0.5, 1, 1.5, 2, 2.5, 3]}},
  "y": {"field": "conv", "type": "quantitative", "axis": {"orient": "right", "labels": false, "title": null, "grid": false, "values": [0.01, 0.1, 1, 10, 100, 1000, 10000, 100000]}},
  "color": {"datum": "Conv. atmospheric", "type": "nominal"}}},
{"data": {"name": "m1"}, "mark": {"type": "line", "interpolate": "step-after", "clip": true, "strokeWidth": 4.5}, "encoding": {
  "x": {"field": "x", "type": "quantitative", "axis": {"orient": "bottom", "labels": false, "title": null, "grid": false, "tickSize": -4, "values": [-1.4,-1.3,-1.2,-1.1,-0.9,-0.8,-0.7,-0.6,-0.4,-0.3,-0.2,-0.1,0.1,0.2,0.3,0.4,0.6,0.7,0.8,0.9,1.1,1.2,1.3,1.4,1.6,1.7,1.8,1.9,2.1,2.2,2.3,2.4,2.6,2.7,2.8,2.9]}},
  "y": {"field": "comb", "type": "quantitative", "axis": {"orient": "left", "labels": false, "title": null, "grid": false, "tickSize": -4, "values": [0.02,0.03,0.04,0.05,0.06,0.07,0.08,0.09,0.2,0.3,0.4,0.5,0.6,0.7,0.8,0.9,2,3,4,5,6,7,8,9,20,30,40,50,60,70,80,90,200,300,400,500,600,700,800,900,2000,3000,4000,5000,6000,7000,8000,9000,20000,30000,40000,50000,60000,70000,80000,90000]}},
  "color": {"datum": "Combined", "type": "nominal"}}},
{"data": {"name": "d1"}, "mark": {"type": "rule", "clip": true, "strokeWidth": 1.6}, "encoding": {
  "x": {"field": "x0", "type": "quantitative", "axis": {"orient": "top", "labels": false, "title": null, "grid": false, "tickSize": -4, "values": [-1.4,-1.3,-1.2,-1.1,-0.9,-0.8,-0.7,-0.6,-0.4,-0.3,-0.2,-0.1,0.1,0.2,0.3,0.4,0.6,0.7,0.8,0.9,1.1,1.2,1.3,1.4,1.6,1.7,1.8,1.9,2.1,2.2,2.3,2.4,2.6,2.7,2.8,2.9]}},
  "x2": {"field": "x1"},
  "y": {"field": "n", "type": "quantitative", "axis": {"orient": "right", "labels": false, "title": null, "grid": false, "tickSize": -4, "values": [0.02,0.03,0.04,0.05,0.06,0.07,0.08,0.09,0.2,0.3,0.4,0.5,0.6,0.7,0.8,0.9,2,3,4,5,6,7,8,9,20,30,40,50,60,70,80,90,200,300,400,500,600,700,800,900,2000,3000,4000,5000,6000,7000,8000,9000,20000,30000,40000,50000,60000,70000,80000,90000]}},
  "color": {"datum": "Exp. data", "type": "nominal"}}},
{"data": {"name": "d1"}, "mark": {"type": "rule", "clip": true, "strokeWidth": 1.6}, "encoding": {"x": {"field": "xm", "type": "quantitative", "axis": null}, "y": {"field": "lo", "type": "quantitative", "axis": null}, "y2": {"field": "hi"}, "color": {"datum": "Exp. data", "type": "nominal"}}},
{"data": {"values": [{}]}, "mark": {"type": "text", "text": "Preliminary", "font": "DejaVu Sans", "fontWeight": "bold", "fontSize": 18, "color": "#ff0000", "align": "left", "baseline": "alphabetic"}, "encoding": {"x": {"datum": -1.375, "type": "quantitative", "axis": null}, "y": {"datum": 0.0178, "type": "quantitative", "axis": null}}},
{"data": {"name": "lg"}, "mark": {"type": "point", "filled": true},
 "encoding": {
  "fill": {"field": "s", "type": "nominal", "scale": {"domain": ["Exp. data", "Astrophysical \u03bd\u03bc +\u03bd\u0304\u03bc", "Conv. atmospheric \u03bd\u03bc +\u03bd\u0304\u03bc", "Combined \u03bd\u03bc +\u03bd\u0304\u03bc"], "range": ["#000000", "#ff0000", "#0000ff", "#ff8c00"]}, "legend": {"orient": "top-right", "offset": 6}},
  "shape": {"field": "s", "type": "nominal", "scale": {"domain": ["Exp. data", "Astrophysical \u03bd\u03bc +\u03bd\u0304\u03bc", "Conv. atmospheric \u03bd\u03bc +\u03bd\u0304\u03bc", "Combined \u03bd\u03bc +\u03bd\u0304\u03bc"], "range": ["M-1.38,0.03H-0.66V0.21H-1.38ZM-1.11,-0.24H-0.93V0.48H-1.11ZM-0.36,-0.21H0.36V-0.03H-0.36ZM-0.09,-0.48H0.09V0.24H-0.09ZM0.66,0.03H1.38V0.21H0.66ZM0.93,-0.24H1.11V0.48H0.93Z", "M-1.4,-0.55H1.4V0.55H-1.4Z", "M-1.4,-0.55H1.4V0.55H-1.4Z", "M-1.4,-0.55H1.4V0.55H-1.4Z"]}, "legend": {"orient": "top-right", "offset": 6}}
 }}
]
},
{
"width": 549, "height": 334,
"resolve": {"axis": {"x": "independent", "y": "independent"}},
"layer": [
{"data": {"name": "m2"}, "mark": {"type": "line", "interpolate": "step-after", "clip": true, "strokeWidth": 2.5},
 "encoding": {
  "x": {"field": "x", "type": "quantitative", "scale": {"domain": [2.2, 7.2], "nice": false, "zero": false}, "axis": {"orient": "bottom", "title": "log\u2081\u2080(muon\u00a0\u00a0energy\u00a0\u00a0proxy)", "values": [3, 4, 5, 6, 7], "format": "d"}},
  "y": {"field": "astro", "type": "quantitative", "scale": {"type": "log", "domain": [0.01, 100000], "nice": false}, "axis": {"orient": "left", "title": "Events\u00a0\u00a0per\u00a0\u00a0bin", "titlePadding": 17, "values": [0.01, 0.1, 1, 10, 100, 1000, 10000, 100000], "labelExpr": "datum.value < 0.05 ? '10\u207b\u00b2' : datum.value < 0.5 ? '10\u207b\u00b9' : datum.value < 5 ? '10\u2070' : datum.value < 50 ? '10\u00b9' : datum.value < 500 ? '10\u00b2' : datum.value < 5000 ? '10\u00b3' : datum.value < 50000 ? '10\u2074' : '10\u2075'"}},
  "color": {"datum": "Astrophysical", "type": "nominal", "legend": null, "scale": {"domain": ["Exp. data", "Astrophysical", "Conv. atmospheric", "Combined"], "range": ["#000000", "#ff0000", "#0000ff", "#ff8c00"]}}
 }},
{"data": {"name": "m2"}, "mark": {"type": "line", "interpolate": "step-after", "clip": true, "strokeWidth": 4}, "encoding": {
  "x": {"field": "x", "type": "quantitative", "axis": {"orient": "top", "labels": false, "title": null, "grid": false, "values": [3, 4, 5, 6, 7]}},
  "y": {"field": "conv", "type": "quantitative", "axis": {"orient": "right", "labels": false, "title": null, "grid": false, "values": [0.01, 0.1, 1, 10, 100, 1000, 10000, 100000]}},
  "color": {"datum": "Conv. atmospheric", "type": "nominal"}}},
{"data": {"name": "m2"}, "mark": {"type": "line", "interpolate": "step-after", "clip": true, "strokeWidth": 4.5}, "encoding": {
  "x": {"field": "x", "type": "quantitative", "axis": {"orient": "bottom", "labels": false, "title": null, "grid": false, "tickSize": -4, "values": [2.4,2.6,2.8,3.2,3.4,3.6,3.8,4.2,4.4,4.6,4.8,5.2,5.4,5.6,5.8,6.2,6.4,6.6,6.8]}},
  "y": {"field": "comb", "type": "quantitative", "axis": {"orient": "left", "labels": false, "title": null, "grid": false, "tickSize": -4, "values": [0.02,0.03,0.04,0.05,0.06,0.07,0.08,0.09,0.2,0.3,0.4,0.5,0.6,0.7,0.8,0.9,2,3,4,5,6,7,8,9,20,30,40,50,60,70,80,90,200,300,400,500,600,700,800,900,2000,3000,4000,5000,6000,7000,8000,9000,20000,30000,40000,50000,60000,70000,80000,90000]}},
  "color": {"datum": "Combined", "type": "nominal"}}},
{"data": {"name": "d2"}, "mark": {"type": "rule", "clip": true, "strokeWidth": 1.6}, "encoding": {
  "x": {"field": "x0", "type": "quantitative", "axis": {"orient": "top", "labels": false, "title": null, "grid": false, "tickSize": -4, "values": [2.4,2.6,2.8,3.2,3.4,3.6,3.8,4.2,4.4,4.6,4.8,5.2,5.4,5.6,5.8,6.2,6.4,6.6,6.8]}},
  "x2": {"field": "x1"},
  "y": {"field": "n", "type": "quantitative", "axis": {"orient": "right", "labels": false, "title": null, "grid": false, "tickSize": -4, "values": [0.02,0.03,0.04,0.05,0.06,0.07,0.08,0.09,0.2,0.3,0.4,0.5,0.6,0.7,0.8,0.9,2,3,4,5,6,7,8,9,20,30,40,50,60,70,80,90,200,300,400,500,600,700,800,900,2000,3000,4000,5000,6000,7000,8000,9000,20000,30000,40000,50000,60000,70000,80000,90000]}},
  "color": {"datum": "Exp. data", "type": "nominal"}}},
{"data": {"name": "d2"}, "mark": {"type": "rule", "clip": true, "strokeWidth": 1.6}, "encoding": {"x": {"field": "xm", "type": "quantitative", "axis": null}, "y": {"field": "lo", "type": "quantitative", "axis": null}, "y2": {"field": "hi"}, "color": {"datum": "Exp. data", "type": "nominal"}}},
{"data": {"values": [{}]}, "mark": {"type": "text", "text": "Preliminary", "font": "DejaVu Sans", "fontWeight": "bold", "fontSize": 18, "color": "#ff0000", "align": "left", "baseline": "alphabetic"}, "encoding": {"x": {"datum": 2.346, "type": "quantitative", "axis": null}, "y": {"datum": 0.0178, "type": "quantitative", "axis": null}}},
{"data": {"values": [{}]}, "mark": {"type": "text", "text": ["Highest energy", "event"], "font": "Liberation Sans", "fontWeight": "bold", "fontSize": 27, "lineHeight": 33, "color": "#ff0000", "align": "center", "baseline": "middle"}, "encoding": {"x": {"datum": 6.2, "type": "quantitative", "axis": null}, "y": {"datum": 70, "type": "quantitative", "axis": null}}},
{"data": {"values": [{}]}, "mark": {"type": "rule", "color": "#ff0000", "strokeWidth": 2}, "encoding": {"x": {"datum": 6.2, "type": "quantitative", "axis": null}, "y": {"datum": 9, "type": "quantitative", "axis": null}, "x2": {"datum": 6.03}, "y2": {"datum": 0.77}}},
{"data": {"values": [{}]}, "mark": {"type": "rule", "color": "#ff0000", "strokeWidth": 2}, "encoding": {"x": {"datum": 6.03, "type": "quantitative", "axis": null}, "y": {"datum": 0.77, "type": "quantitative", "axis": null}, "x2": {"datum": 6.157}, "y2": {"datum": 1.34}}},
{"data": {"values": [{}]}, "mark": {"type": "rule", "color": "#ff0000", "strokeWidth": 2}, "encoding": {"x": {"datum": 6.03, "type": "quantitative", "axis": null}, "y": {"datum": 0.77, "type": "quantitative", "axis": null}, "x2": {"datum": 6.003}, "y2": {"datum": 1.81}}},
{"data": {"name": "lg"}, "mark": {"type": "point", "filled": true},
 "encoding": {
  "fill": {"field": "s", "type": "nominal", "scale": {"domain": ["Exp. data", "Astrophysical \u03bd\u03bc +\u03bd\u0304\u03bc", "Conv. atmospheric \u03bd\u03bc +\u03bd\u0304\u03bc", "Combined \u03bd\u03bc +\u03bd\u0304\u03bc"], "range": ["#000000", "#ff0000", "#0000ff", "#ff8c00"]}, "legend": {"orient": "top-right", "offset": 6}},
  "shape": {"field": "s", "type": "nominal", "scale": {"domain": ["Exp. data", "Astrophysical \u03bd\u03bc +\u03bd\u0304\u03bc", "Conv. atmospheric \u03bd\u03bc +\u03bd\u0304\u03bc", "Combined \u03bd\u03bc +\u03bd\u0304\u03bc"], "range": ["M-1.38,0.03H-0.66V0.21H-1.38ZM-1.11,-0.24H-0.93V0.48H-1.11ZM-0.36,-0.21H0.36V-0.03H-0.36ZM-0.09,-0.48H0.09V0.24H-0.09ZM0.66,0.03H1.38V0.21H0.66ZM0.93,-0.24H1.11V0.48H0.93Z", "M-1.4,-0.55H1.4V0.55H-1.4Z", "M-1.4,-0.55H1.4V0.55H-1.4Z", "M-1.4,-0.55H1.4V0.55H-1.4Z"]}, "legend": {"orient": "top-right", "offset": 6}}
 }}
]
},
{
"width": 547, "height": 334,
"resolve": {"axis": {"x": "independent", "y": "independent"}},
"layer": [
{"data": {"name": "m3"}, "mark": {"type": "line", "interpolate": "step-after", "clip": true, "strokeWidth": 2.5},
 "encoding": {
  "x": {"field": "x", "type": "quantitative", "scale": {"domain": [2, 7], "nice": false, "zero": false}, "axis": {"orient": "bottom", "title": "log\u2081\u2080(muon\u00a0\u00a0energy\u00a0\u00a0proxy)", "values": [2, 3, 4, 5, 6, 7], "format": "d"}},
  "y": {"field": "astro", "type": "quantitative", "scale": {"type": "log", "domain": [0.01, 100000], "nice": false}, "axis": {"orient": "left", "title": "Events\u00a0\u00a0per\u00a0\u00a0bin", "titlePadding": 17, "values": [0.01, 0.1, 1, 10, 100, 1000, 10000, 100000], "labelExpr": "datum.value < 0.05 ? '10\u207b\u00b2' : datum.value < 0.5 ? '10\u207b\u00b9' : datum.value < 5 ? '10\u2070' : datum.value < 50 ? '10\u00b9' : datum.value < 500 ? '10\u00b2' : datum.value < 5000 ? '10\u00b3' : datum.value < 50000 ? '10\u2074' : '10\u2075'"}},
  "color": {"datum": "Astrophysical", "type": "nominal", "legend": null, "scale": {"domain": ["Exp. data", "Astrophysical", "Conv. atmospheric", "Combined"], "range": ["#000000", "#ff0000", "#0000ff", "#ff8c00"]}}
 }},
{"data": {"name": "m3"}, "mark": {"type": "line", "interpolate": "step-after", "clip": true, "strokeWidth": 4}, "encoding": {
  "x": {"field": "x", "type": "quantitative", "axis": {"orient": "top", "labels": false, "title": null, "grid": false, "values": [2, 3, 4, 5, 6, 7]}},
  "y": {"field": "conv", "type": "quantitative", "axis": {"orient": "right", "labels": false, "title": null, "grid": false, "values": [0.01, 0.1, 1, 10, 100, 1000, 10000, 100000]}},
  "color": {"datum": "Conv. atmospheric", "type": "nominal"}}},
{"data": {"name": "m3"}, "mark": {"type": "line", "interpolate": "step-after", "clip": true, "strokeWidth": 4.5}, "encoding": {
  "x": {"field": "x", "type": "quantitative", "axis": {"orient": "bottom", "labels": false, "title": null, "grid": false, "tickSize": -4, "values": [2.2,2.4,2.6,2.8,3.2,3.4,3.6,3.8,4.2,4.4,4.6,4.8,5.2,5.4,5.6,5.8,6.2,6.4,6.6,6.8]}},
  "y": {"field": "comb", "type": "quantitative", "axis": {"orient": "left", "labels": false, "title": null, "grid": false, "tickSize": -4, "values": [0.02,0.03,0.04,0.05,0.06,0.07,0.08,0.09,0.2,0.3,0.4,0.5,0.6,0.7,0.8,0.9,2,3,4,5,6,7,8,9,20,30,40,50,60,70,80,90,200,300,400,500,600,700,800,900,2000,3000,4000,5000,6000,7000,8000,9000,20000,30000,40000,50000,60000,70000,80000,90000]}},
  "color": {"datum": "Combined", "type": "nominal"}}},
{"data": {"name": "d3"}, "mark": {"type": "rule", "clip": true, "strokeWidth": 1.6}, "encoding": {
  "x": {"field": "x0", "type": "quantitative", "axis": {"orient": "top", "labels": false, "title": null, "grid": false, "tickSize": -4, "values": [2.2,2.4,2.6,2.8,3.2,3.4,3.6,3.8,4.2,4.4,4.6,4.8,5.2,5.4,5.6,5.8,6.2,6.4,6.6,6.8]}},
  "x2": {"field": "x1"},
  "y": {"field": "n", "type": "quantitative", "axis": {"orient": "right", "labels": false, "title": null, "grid": false, "tickSize": -4, "values": [0.02,0.03,0.04,0.05,0.06,0.07,0.08,0.09,0.2,0.3,0.4,0.5,0.6,0.7,0.8,0.9,2,3,4,5,6,7,8,9,20,30,40,50,60,70,80,90,200,300,400,500,600,700,800,900,2000,3000,4000,5000,6000,7000,8000,9000,20000,30000,40000,50000,60000,70000,80000,90000]}},
  "color": {"datum": "Exp. data", "type": "nominal"}}},
{"data": {"name": "d3"}, "mark": {"type": "rule", "clip": true, "strokeWidth": 1.6}, "encoding": {"x": {"field": "xm", "type": "quantitative", "axis": null}, "y": {"field": "lo", "type": "quantitative", "axis": null}, "y2": {"field": "hi"}, "color": {"datum": "Exp. data", "type": "nominal"}}},
{"data": {"values": [{}]}, "mark": {"type": "text", "text": "Preliminary", "font": "DejaVu Sans", "fontWeight": "bold", "fontSize": 18, "color": "#ff0000", "align": "left", "baseline": "alphabetic"}, "encoding": {"x": {"datum": 2.146, "type": "quantitative", "axis": null}, "y": {"datum": 0.0178, "type": "quantitative", "axis": null}}},
{"data": {"name": "lg"}, "mark": {"type": "point", "filled": true},
 "encoding": {
  "fill": {"field": "s", "type": "nominal", "scale": {"domain": ["Exp. data", "Astrophysical \u03bd\u03bc +\u03bd\u0304\u03bc", "Conv. atmospheric \u03bd\u03bc +\u03bd\u0304\u03bc", "Combined \u03bd\u03bc +\u03bd\u0304\u03bc"], "range": ["#000000", "#ff0000", "#0000ff", "#ff8c00"]}, "legend": {"orient": "top-right", "offset": 6}},
  "shape": {"field": "s", "type": "nominal", "scale": {"domain": ["Exp. data", "Astrophysical \u03bd\u03bc +\u03bd\u0304\u03bc", "Conv. atmospheric \u03bd\u03bc +\u03bd\u0304\u03bc", "Combined \u03bd\u03bc +\u03bd\u0304\u03bc"], "range": ["M-1.38,0.03H-0.66V0.21H-1.38ZM-1.11,-0.24H-0.93V0.48H-1.11ZM-0.36,-0.21H0.36V-0.03H-0.36ZM-0.09,-0.48H0.09V0.24H-0.09ZM0.66,0.03H1.38V0.21H0.66ZM0.93,-0.24H1.11V0.48H0.93Z", "M-1.4,-0.55H1.4V0.55H-1.4Z", "M-1.4,-0.55H1.4V0.55H-1.4Z", "M-1.4,-0.55H1.4V0.55H-1.4Z"]}, "legend": {"orient": "top-right", "offset": 6}}
 }}
]
},
{
"width": 536, "height": 350,
"resolve": {"axis": {"x": "independent", "y": "independent"}},
"layer": [
{"data": {"name": "m4"}, "mark": {"type": "line", "interpolate": "step-after", "clip": true, "strokeWidth": 2.5},
 "encoding": {
  "x": {"field": "x", "type": "quantitative", "scale": {"domain": [-1, 0], "nice": false, "zero": false}, "axis": {"orient": "bottom", "title": "cos(zenith)", "values": [-1, -0.8, -0.6, -0.4, -0.2, 0], "format": ".1f"}},
  "y": {"field": "astro", "type": "quantitative", "scale": {"domain": [0, 1227], "nice": false}, "axis": {"orient": "left", "title": "Events\u00a0\u00a0per\u00a0\u00a0bin", "titlePadding": 8, "values": [0, 200, 400, 600, 800, 1000, 1200], "format": "d"}},
  "color": {"datum": "Astrophysical", "type": "nominal", "legend": null, "scale": {"domain": ["Exp. data", "Astrophysical", "Conv. atmospheric", "Combined"], "range": ["#000000", "#ff0000", "#0000ff", "#ff8c00"]}}
 }},
{"data": {"name": "m4"}, "mark": {"type": "line", "interpolate": "step-after", "clip": true, "strokeWidth": 4}, "encoding": {
  "x": {"field": "x", "type": "quantitative", "axis": {"orient": "top", "labels": false, "title": null, "grid": false, "values": [-1, -0.8, -0.6, -0.4, -0.2, 0]}},
  "y": {"field": "conv", "type": "quantitative", "axis": {"orient": "right", "labels": false, "title": null, "grid": false, "values": [0, 200, 400, 600, 800, 1000, 1200]}},
  "color": {"datum": "Conv. atmospheric", "type": "nominal"}}},
{"data": {"name": "m4"}, "mark": {"type": "line", "interpolate": "step-after", "clip": true, "strokeWidth": 6}, "encoding": {
  "x": {"field": "x", "type": "quantitative", "axis": {"orient": "bottom", "labels": false, "title": null, "grid": false, "tickSize": -4, "values": [-0.95,-0.9,-0.85,-0.75,-0.7,-0.65,-0.55,-0.5,-0.45,-0.35,-0.3,-0.25,-0.15,-0.1,-0.05]}},
  "y": {"field": "comb", "type": "quantitative", "axis": {"orient": "left", "labels": false, "title": null, "grid": false, "tickSize": -4, "values": [50,100,150,250,300,350,450,500,550,650,700,750,850,900,950,1050,1100,1150]}},
  "color": {"datum": "Combined", "type": "nominal"}}},
{"data": {"name": "d4"}, "mark": {"type": "rule", "clip": true, "strokeWidth": 1.6}, "encoding": {
  "x": {"field": "x0", "type": "quantitative", "axis": {"orient": "top", "labels": false, "title": null, "grid": false, "tickSize": -4, "values": [-0.95,-0.9,-0.85,-0.75,-0.7,-0.65,-0.55,-0.5,-0.45,-0.35,-0.3,-0.25,-0.15,-0.1,-0.05]}},
  "x2": {"field": "x1"},
  "y": {"field": "n", "type": "quantitative", "axis": {"orient": "right", "labels": false, "title": null, "grid": false, "tickSize": -4, "values": [50,100,150,250,300,350,450,500,550,650,700,750,850,900,950,1050,1100,1150]}},
  "color": {"datum": "Exp. data", "type": "nominal"}}},
{"data": {"name": "d4"}, "mark": {"type": "rule", "clip": true, "strokeWidth": 1.6}, "encoding": {"x": {"field": "xm", "type": "quantitative", "axis": null}, "y": {"field": "lo", "type": "quantitative", "axis": null}, "y2": {"field": "hi"}, "color": {"datum": "Exp. data", "type": "nominal"}}},
{"data": {"values": [{}]}, "mark": {"type": "text", "text": "Preliminary", "font": "DejaVu Sans", "fontWeight": "bold", "fontSize": 18, "color": "#ff0000", "align": "left", "baseline": "alphabetic"}, "encoding": {"x": {"datum": -0.972, "type": "quantitative", "axis": null}, "y": {"datum": 46, "type": "quantitative", "axis": null}}},
{"data": {"name": "lg"}, "mark": {"type": "point", "filled": true},
 "encoding": {
  "fill": {"field": "s", "type": "nominal", "scale": {"domain": ["Exp. data", "Astrophysical \u03bd\u03bc +\u03bd\u0304\u03bc", "Conv. atmospheric \u03bd\u03bc +\u03bd\u0304\u03bc", "Combined \u03bd\u03bc +\u03bd\u0304\u03bc"], "range": ["#000000", "#ff0000", "#0000ff", "#ff8c00"]}, "legend": {"orient": "top-left", "offset": 7}},
  "shape": {"field": "s", "type": "nominal", "scale": {"domain": ["Exp. data", "Astrophysical \u03bd\u03bc +\u03bd\u0304\u03bc", "Conv. atmospheric \u03bd\u03bc +\u03bd\u0304\u03bc", "Combined \u03bd\u03bc +\u03bd\u0304\u03bc"], "range": ["M-1.38,0.03H-0.66V0.21H-1.38ZM-1.11,-0.24H-0.93V0.48H-1.11ZM-0.36,-0.21H0.36V-0.03H-0.36ZM-0.09,-0.48H0.09V0.24H-0.09ZM0.66,0.03H1.38V0.21H0.66ZM0.93,-0.24H1.11V0.48H0.93Z", "M-1.4,-0.55H1.4V0.55H-1.4Z", "M-1.4,-0.55H1.4V0.55H-1.4Z", "M-1.4,-0.55H1.4V0.55H-1.4Z"]}, "legend": {"orient": "top-left", "offset": 7}}
 }}
]
},
{
"width": 547, "height": 350,
"resolve": {"axis": {"x": "independent", "y": "independent"}},
"layer": [
{"data": {"name": "m5"}, "mark": {"type": "line", "interpolate": "step-after", "clip": true, "strokeWidth": 2.5},
 "encoding": {
  "x": {"field": "x", "type": "quantitative", "scale": {"domain": [-1, 0.0872], "nice": false, "zero": false}, "axis": {"orient": "bottom", "title": "cos(zenith)", "values": [-1, -0.8, -0.6, -0.4, -0.2, 0], "format": ".1f"}},
  "y": {"field": "astro", "type": "quantitative", "scale": {"domain": [0, 2045], "nice": false}, "axis": {"orient": "left", "title": "Events\u00a0\u00a0per\u00a0\u00a0bin", "titlePadding": 8, "values": [0, 500, 1000, 1500, 2000], "format": "d"}},
  "color": {"datum": "Astrophysical", "type": "nominal", "legend": null, "scale": {"domain": ["Exp. data", "Astrophysical", "Conv. atmospheric", "Combined"], "range": ["#000000", "#ff0000", "#0000ff", "#ff8c00"]}}
 }},
{"data": {"name": "m5"}, "mark": {"type": "line", "interpolate": "step-after", "clip": true, "strokeWidth": 4}, "encoding": {
  "x": {"field": "x", "type": "quantitative", "axis": {"orient": "top", "labels": false, "title": null, "grid": false, "values": [-1, -0.8, -0.6, -0.4, -0.2, 0]}},
  "y": {"field": "conv", "type": "quantitative", "axis": {"orient": "right", "labels": false, "title": null, "grid": false, "values": [0, 500, 1000, 1500, 2000]}},
  "color": {"datum": "Conv. atmospheric", "type": "nominal"}}},
{"data": {"name": "m5"}, "mark": {"type": "line", "interpolate": "step-after", "clip": true, "strokeWidth": 6}, "encoding": {
  "x": {"field": "x", "type": "quantitative", "axis": {"orient": "bottom", "labels": false, "title": null, "grid": false, "tickSize": -4, "values": [-0.95,-0.9,-0.85,-0.75,-0.7,-0.65,-0.55,-0.5,-0.45,-0.35,-0.3,-0.25,-0.15,-0.1,-0.05,0.05]}},
  "y": {"field": "comb", "type": "quantitative", "axis": {"orient": "left", "labels": false, "title": null, "grid": false, "tickSize": -4, "values": [100,200,300,400,600,700,800,900,1100,1200,1300,1400,1600,1700,1800,1900]}},
  "color": {"datum": "Combined", "type": "nominal"}}},
{"data": {"name": "d5"}, "mark": {"type": "rule", "clip": true, "strokeWidth": 1.6}, "encoding": {
  "x": {"field": "x0", "type": "quantitative", "axis": {"orient": "top", "labels": false, "title": null, "grid": false, "tickSize": -4, "values": [-0.95,-0.9,-0.85,-0.75,-0.7,-0.65,-0.55,-0.5,-0.45,-0.35,-0.3,-0.25,-0.15,-0.1,-0.05,0.05]}},
  "x2": {"field": "x1"},
  "y": {"field": "n", "type": "quantitative", "axis": {"orient": "right", "labels": false, "title": null, "grid": false, "tickSize": -4, "values": [100,200,300,400,600,700,800,900,1100,1200,1300,1400,1600,1700,1800,1900]}},
  "color": {"datum": "Exp. data", "type": "nominal"}}},
{"data": {"name": "d5"}, "mark": {"type": "rule", "clip": true, "strokeWidth": 1.6}, "encoding": {"x": {"field": "xm", "type": "quantitative", "axis": null}, "y": {"field": "lo", "type": "quantitative", "axis": null}, "y2": {"field": "hi"}, "color": {"datum": "Exp. data", "type": "nominal"}}},
{"data": {"values": [{}]}, "mark": {"type": "text", "text": "Preliminary", "font": "DejaVu Sans", "fontWeight": "bold", "fontSize": 18, "color": "#ff0000", "align": "left", "baseline": "alphabetic"}, "encoding": {"x": {"datum": -0.968, "type": "quantitative", "axis": null}, "y": {"datum": 76, "type": "quantitative", "axis": null}}},
{"data": {"name": "lg"}, "mark": {"type": "point", "filled": true},
 "encoding": {
  "fill": {"field": "s", "type": "nominal", "scale": {"domain": ["Exp. data", "Astrophysical \u03bd\u03bc +\u03bd\u0304\u03bc", "Conv. atmospheric \u03bd\u03bc +\u03bd\u0304\u03bc", "Combined \u03bd\u03bc +\u03bd\u0304\u03bc"], "range": ["#000000", "#ff0000", "#0000ff", "#ff8c00"]}, "legend": {"orient": "top-left", "offset": 7}},
  "shape": {"field": "s", "type": "nominal", "scale": {"domain": ["Exp. data", "Astrophysical \u03bd\u03bc +\u03bd\u0304\u03bc", "Conv. atmospheric \u03bd\u03bc +\u03bd\u0304\u03bc", "Combined \u03bd\u03bc +\u03bd\u0304\u03bc"], "range": ["M-1.38,0.03H-0.66V0.21H-1.38ZM-1.11,-0.24H-0.93V0.48H-1.11ZM-0.36,-0.21H0.36V-0.03H-0.36ZM-0.09,-0.48H0.09V0.24H-0.09ZM0.66,0.03H1.38V0.21H0.66ZM0.93,-0.24H1.11V0.48H0.93Z", "M-1.4,-0.55H1.4V0.55H-1.4Z", "M-1.4,-0.55H1.4V0.55H-1.4Z", "M-1.4,-0.55H1.4V0.55H-1.4Z"]}, "legend": {"orient": "top-left", "offset": 7}}
 }}
]
},
{
"width": 549, "height": 350,
"resolve": {"axis": {"x": "independent", "y": "independent"}},
"layer": [
{"data": {"name": "m6"}, "mark": {"type": "line", "interpolate": "step-after", "clip": true, "strokeWidth": 2.5},
 "encoding": {
  "x": {"field": "x", "type": "quantitative", "scale": {"domain": [-1, 0.0872], "nice": false, "zero": false}, "axis": {"orient": "bottom", "title": "cos(zenith)", "values": [-1, -0.8, -0.6, -0.4, -0.2, 0], "format": ".1f"}},
  "y": {"field": "astro", "type": "quantitative", "scale": {"domain": [0, 4090], "nice": false}, "axis": {"orient": "left", "title": "Events\u00a0\u00a0per\u00a0\u00a0bin", "titlePadding": 8, "values": [0, 500, 1000, 1500, 2000, 2500, 3000, 3500, 4000], "format": "d"}},
  "color": {"datum": "Astrophysical", "type": "nominal", "legend": null, "scale": {"domain": ["Exp. data", "Astrophysical", "Conv. atmospheric", "Combined"], "range": ["#000000", "#ff0000", "#0000ff", "#ff8c00"]}}
 }},
{"data": {"name": "m6"}, "mark": {"type": "line", "interpolate": "step-after", "clip": true, "strokeWidth": 4}, "encoding": {
  "x": {"field": "x", "type": "quantitative", "axis": {"orient": "top", "labels": false, "title": null, "grid": false, "values": [-1, -0.8, -0.6, -0.4, -0.2, 0]}},
  "y": {"field": "conv", "type": "quantitative", "axis": {"orient": "right", "labels": false, "title": null, "grid": false, "values": [0, 500, 1000, 1500, 2000, 2500, 3000, 3500, 4000]}},
  "color": {"datum": "Conv. atmospheric", "type": "nominal"}}},
{"data": {"name": "m6"}, "mark": {"type": "line", "interpolate": "step-after", "clip": true, "strokeWidth": 6}, "encoding": {
  "x": {"field": "x", "type": "quantitative", "axis": {"orient": "bottom", "labels": false, "title": null, "grid": false, "tickSize": -4, "values": [-0.95,-0.9,-0.85,-0.75,-0.7,-0.65,-0.55,-0.5,-0.45,-0.35,-0.3,-0.25,-0.15,-0.1,-0.05,0.05]}},
  "y": {"field": "comb", "type": "quantitative", "axis": {"orient": "left", "labels": false, "title": null, "grid": false, "tickSize": -4, "values": [100,200,300,400,600,700,800,900,1100,1200,1300,1400,1600,1700,1800,1900,2100,2200,2300,2400,2600,2700,2800,2900,3100,3200,3300,3400,3600,3700,3800,3900]}},
  "color": {"datum": "Combined", "type": "nominal"}}},
{"data": {"name": "d6"}, "mark": {"type": "rule", "clip": true, "strokeWidth": 1.6}, "encoding": {
  "x": {"field": "x0", "type": "quantitative", "axis": {"orient": "top", "labels": false, "title": null, "grid": false, "tickSize": -4, "values": [-0.95,-0.9,-0.85,-0.75,-0.7,-0.65,-0.55,-0.5,-0.45,-0.35,-0.3,-0.25,-0.15,-0.1,-0.05,0.05]}},
  "x2": {"field": "x1"},
  "y": {"field": "n", "type": "quantitative", "axis": {"orient": "right", "labels": false, "title": null, "grid": false, "tickSize": -4, "values": [100,200,300,400,600,700,800,900,1100,1200,1300,1400,1600,1700,1800,1900,2100,2200,2300,2400,2600,2700,2800,2900,3100,3200,3300,3400,3600,3700,3800,3900]}},
  "color": {"datum": "Exp. data", "type": "nominal"}}},
{"data": {"name": "d6"}, "mark": {"type": "rule", "clip": true, "strokeWidth": 1.6}, "encoding": {"x": {"field": "xm", "type": "quantitative", "axis": null}, "y": {"field": "lo", "type": "quantitative", "axis": null}, "y2": {"field": "hi"}, "color": {"datum": "Exp. data", "type": "nominal"}}},
{"data": {"values": [{}]}, "mark": {"type": "text", "text": "Preliminary", "font": "DejaVu Sans", "fontWeight": "bold", "fontSize": 18, "color": "#ff0000", "align": "left", "baseline": "alphabetic"}, "encoding": {"x": {"datum": -0.968, "type": "quantitative", "axis": null}, "y": {"datum": 152, "type": "quantitative", "axis": null}}},
{"data": {"name": "lg"}, "mark": {"type": "point", "filled": true},
 "encoding": {
  "fill": {"field": "s", "type": "nominal", "scale": {"domain": ["Exp. data", "Astrophysical \u03bd\u03bc +\u03bd\u0304\u03bc", "Conv. atmospheric \u03bd\u03bc +\u03bd\u0304\u03bc", "Combined \u03bd\u03bc +\u03bd\u0304\u03bc"], "range": ["#000000", "#ff0000", "#0000ff", "#ff8c00"]}, "legend": {"orient": "top-left", "offset": 7}},
  "shape": {"field": "s", "type": "nominal", "scale": {"domain": ["Exp. data", "Astrophysical \u03bd\u03bc +\u03bd\u0304\u03bc", "Conv. atmospheric \u03bd\u03bc +\u03bd\u0304\u03bc", "Combined \u03bd\u03bc +\u03bd\u0304\u03bc"], "range": ["M-1.38,0.03H-0.66V0.21H-1.38ZM-1.11,-0.24H-0.93V0.48H-1.11ZM-0.36,-0.21H0.36V-0.03H-0.36ZM-0.09,-0.48H0.09V0.24H-0.09ZM0.66,0.03H1.38V0.21H0.66ZM0.93,-0.24H1.11V0.48H0.93Z", "M-1.4,-0.55H1.4V0.55H-1.4Z", "M-1.4,-0.55H1.4V0.55H-1.4Z", "M-1.4,-0.55H1.4V0.55H-1.4Z"]}, "legend": {"orient": "top-left", "offset": 7}}
 }}
]
}
]
}
